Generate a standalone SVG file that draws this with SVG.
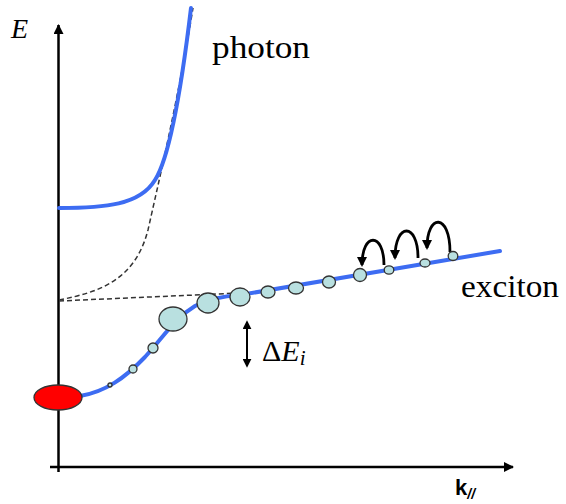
<svg xmlns="http://www.w3.org/2000/svg" width="566" height="504" viewBox="0 0 566 504">
<style>
.axis{stroke:#000;stroke-width:2.5;fill:none}
.blue{stroke:#3d6cf2;stroke-width:4;fill:none;stroke-linecap:round}
.dash{stroke:#333;stroke-width:1.5;fill:none;stroke-dasharray:5 3}
.bub{fill:#b9e0e0;stroke:#333;stroke-width:1.3}
.hop{stroke:#000;stroke-width:2.8;fill:none}
.serif{font-family:"Liberation Serif","Times New Roman",serif;fill:#000}
</style>
<defs>
<marker id="ah" viewBox="0 0 10 10" refX="9" refY="5" markerWidth="4" markerHeight="4" orient="auto" markerUnits="strokeWidth">
<path d="M0,0 L10,5 L0,10 z" fill="#000"/>
</marker>
<marker id="ah2" viewBox="0 0 10 10" refX="8" refY="5" markerWidth="3.6" markerHeight="3.6" orient="auto-start-reverse" markerUnits="strokeWidth">
<path d="M0,0 L10,5 L0,10 z" fill="#000"/>
</marker>
<marker id="ah3" viewBox="0 0 10 10" refX="8" refY="5" markerWidth="4.5" markerHeight="4.5" orient="auto-start-reverse" markerUnits="strokeWidth">
<path d="M0,0 L10,5 L0,10 z" fill="#000"/>
</marker>
</defs>
<g id="axes">
<line class="axis" x1="58.5" y1="472" x2="58.5" y2="25" marker-end="url(#ah)"/>
<line class="axis" x1="50" y1="467" x2="513" y2="467" marker-end="url(#ah)"/>
<text class="serif" x="11" y="38" font-size="28" font-style="italic">E</text>
<text x="455" y="495" font-family="'Liberation Sans',Arial,sans-serif" font-size="22" font-weight="bold">k<tspan font-size="14" font-style="italic" dy="4">//</tspan></text>
</g>
<g id="connectors">
<path class="dash" d="M59,300 C100,292 135,280 148,230 C158,185 178,100 193,8"/>
<path class="dash" d="M59,301 L240,293"/>
<path class="blue" d="M59,208 C105,208 140,205 155,180 C168,160 180,100 191,8"/>
<path class="blue" d="M80,396 C105,392 125,378 145,357 C165,335 175,318 195,306 C210,298 225,296 240,295 L500,251"/>
<path class="hop" d="M384,265 C384,232 362,232 362,265" marker-end="url(#ah2)"/>
<path class="hop" d="M418,258 C418,222 395,222 395,258" marker-end="url(#ah2)"/>
<path class="hop" d="M450,252 C450,213 427,213 427,248" marker-end="url(#ah2)"/>
<line x1="247" y1="322" x2="247" y2="366" stroke="#000" stroke-width="2" marker-start="url(#ah3)" marker-end="url(#ah3)"/>
</g>
<g id="bubbles">
<ellipse cx="58" cy="397.5" rx="24" ry="12.5" fill="#ff0000" stroke="#333" stroke-width="1.3"/>
<circle class="bub" cx="110" cy="385" r="2"/>
<circle class="bub" cx="133" cy="369" r="4"/>
<circle class="bub" cx="153" cy="348" r="5"/>
<ellipse class="bub" cx="173" cy="319" rx="14" ry="12"/>
<ellipse class="bub" cx="208" cy="303" rx="11" ry="10"/>
<ellipse class="bub" cx="240" cy="297" rx="10" ry="9"/>
<ellipse class="bub" cx="268" cy="292" rx="7" ry="6"/>
<ellipse class="bub" cx="296" cy="288" rx="7.5" ry="6"/>
<ellipse class="bub" cx="329" cy="282" rx="6.5" ry="6"/>
<circle class="bub" cx="360" cy="275" r="6.5"/>
<ellipse class="bub" cx="389" cy="270" rx="4.8" ry="4.2"/>
<ellipse class="bub" cx="425" cy="263" rx="5" ry="4"/>
<ellipse class="bub" cx="453" cy="256" rx="4.8" ry="4.5"/>
</g>
<g id="labels">
<text class="serif" x="212" y="58" font-size="32" textLength="98" lengthAdjust="spacingAndGlyphs">photon</text>
<text class="serif" x="461" y="297" font-size="32" textLength="98" lengthAdjust="spacingAndGlyphs">exciton</text>
<text class="serif" x="262" y="361" font-size="30">Δ<tspan font-style="italic">E</tspan><tspan font-style="italic" font-size="21" dy="4">i</tspan></text>
</g>
</svg>
